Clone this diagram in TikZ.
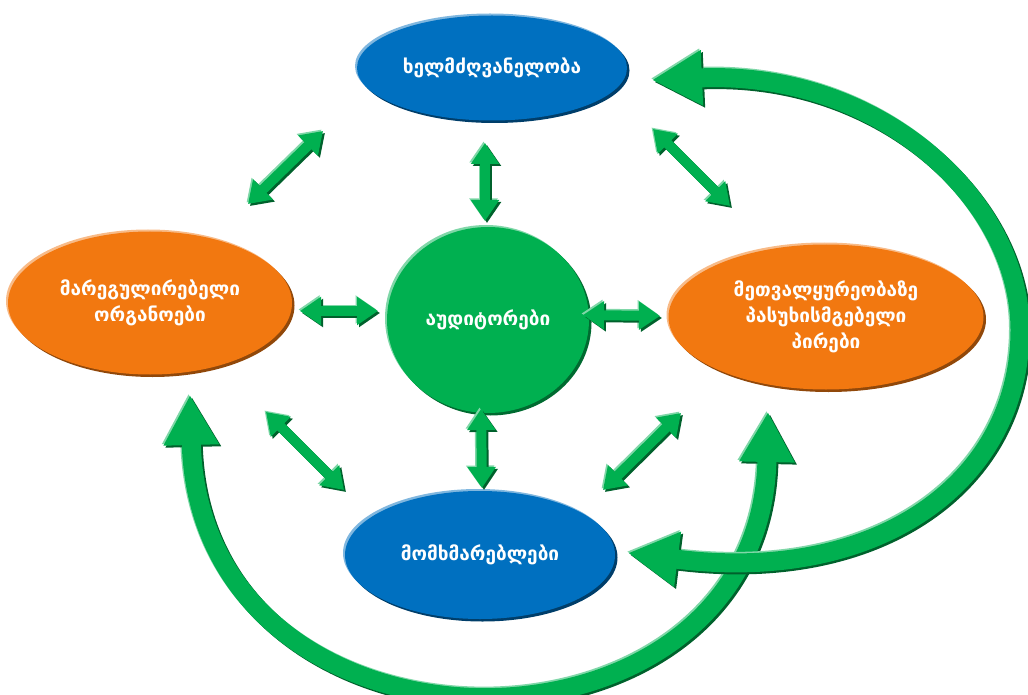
\documentclass[tikz,border=0pt]{standalone}
\usepackage{fontspec}
\setmainfont{DejaVu Sans}
\usepackage{tikz}
\usetikzlibrary{arrows.meta}
\usetikzlibrary{shapes.geometric}
\usetikzlibrary{shadows}

\definecolor{ablue}{HTML}{0070C0}
\definecolor{aorange}{HTML}{F27810}
\definecolor{agreen}{HTML}{00B050}

\begin{document}
\begin{tikzpicture}[x=1pt,y=-1pt,
  blob/.style={ellipse,inner sep=0pt,text=white,align=center,
    font=\fontsize{19}{26}\selectfont\bfseries},
  blue node/.style={blob,fill=ablue,
    general shadow={fill=ablue!50!white,shadow xshift=-2pt,shadow yshift=2pt},
    general shadow={fill=ablue!55!black,shadow xshift=2.5pt,shadow yshift=-2.5pt}},
  orange node/.style={blob,fill=aorange,
    general shadow={fill=aorange!50!white,shadow xshift=-2pt,shadow yshift=2pt},
    general shadow={fill=aorange!60!black,shadow xshift=2.5pt,shadow yshift=-2.5pt}},
  green node/.style={blob,fill=agreen,
    general shadow={fill=agreen!50!white,shadow xshift=-2pt,shadow yshift=2pt},
    general shadow={fill=agreen!60!black,shadow xshift=2.5pt,shadow yshift=-2.5pt}},
  small arrow/.style={line width=10pt,{Triangle[length=21pt,width=27pt]}-{Triangle[length=21pt,width=27pt]}},
  big arrow/.style={line width=19pt,{Triangle[length=50pt,width=52pt]}-{Triangle[length=50pt,width=52pt]}},
  lit/.style={draw=agreen!50!white,transform canvas={xshift=-1.5pt,yshift=1.5pt}},
  dim/.style={draw=agreen!55!black,transform canvas={xshift=2pt,yshift=-2pt}},
  flat/.style={draw=agreen}]

  \useasboundingbox (0,0) rectangle (1028,695);

  % the five groups
  \node[blue node,minimum width=270pt,minimum height=105pt] (boss) at (492,68) {ხელმძღვანელობა};
  \node[orange node,minimum width=284pt,minimum height=143pt] (reg) at (150,303) {მარეგულირებელი\\ორგანოები};
  \node[orange node,minimum width=315pt,minimum height=145pt] (resp) at (826,317) {მეთვალყურეობაზე\\პასუხისმგებელი\\პირები};
  \node[green node,minimum width=202pt,minimum height=186pt] (aud) at (488,320) {აუდიტორები};
  \node[blue node,minimum width=270pt,minimum height=128pt] (users) at (480,555) {მომხმარებლები};

  % ends of the short arrows
  \coordinate (tl1) at (248,204); \coordinate (tl2) at (323,131);
  \coordinate (tv1) at (485,143); \coordinate (tv2) at (485,221);
  \coordinate (tr1) at (653,129); \coordinate (tr2) at (730,206);
  \coordinate (lh1) at (300,311); \coordinate (lh2) at (378,311);
  \coordinate (rh1) at (583,315); \coordinate (rh2) at (660,316);
  \coordinate (bl1) at (266,412); \coordinate (bl2) at (344,490);
  \coordinate (bv1) at (481,409); \coordinate (bv2) at (482,488);
  \coordinate (br1) at (603,490); \coordinate (br2) at (681,413);

  \foreach \a/\b in {tl1/tl2,tv1/tv2,tr1/tr2,lh1/lh2,rh1/rh2,bl1/bl2,bv1/bv2,br1/br2} {
    \foreach \look in {lit,dim,flat}
      \draw[small arrow,\look] (\a) -- (\b);
  }

  % long arrows round the outside
  \coordinate (regtip) at (190,395);
  \coordinate (resptip) at (768,412);
  \coordinate (bosstip) at (652,80);
  \coordinate (usertip) at (628,553);

  \foreach \look in {lit,dim,flat}
    \draw[big arrow,\look] (regtip) .. controls (200,780) and (760,780) .. (resptip);
  \foreach \look in {lit,dim,flat}
    \draw[big arrow,\look] (bosstip) .. controls (880,70) and (1020,200) .. (1020,330)
      .. controls (1020,480) and (880,585) .. (usertip);
\end{tikzpicture}
\end{document}
